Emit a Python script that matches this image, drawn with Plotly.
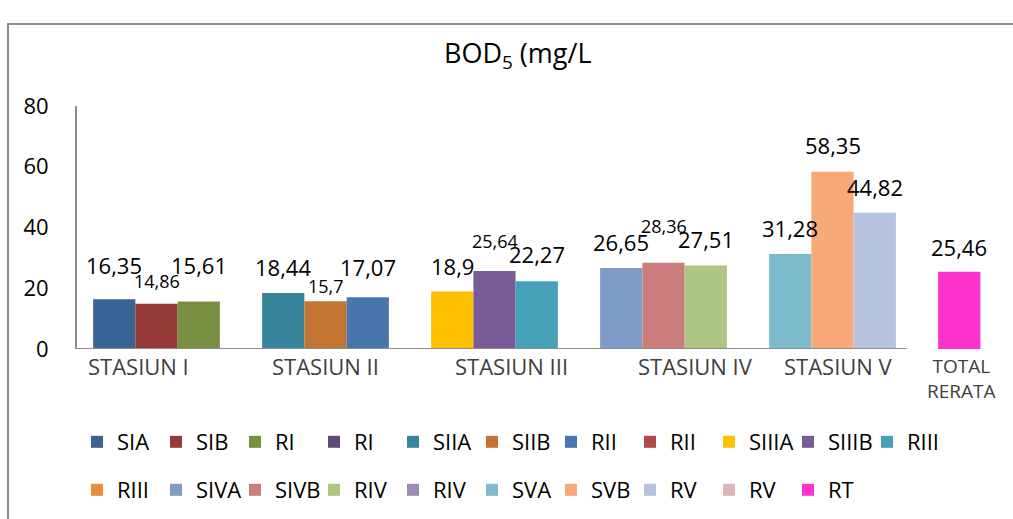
import plotly.graph_objects as go

# ---------------- data ----------------
categories = ["STASIUN I", "STASIUN II", "STASIUN III", "STASIUN IV", "STASIUN V", "TOTAL<br>RERATA"]
series_names = ["SIA", "SIB", "RI", "RI", "SIIA", "SIIB", "RII", "RII", "SIIIA", "SIIIB", "RIII",
                "RIII", "SIVA", "SIVB", "RIV", "RIV", "SVA", "SVB", "RV", "RV", "RT"]
series_values = [16.35, 14.86, 15.61, None, 18.44, 15.7, 17.07, None, 18.9, 25.64, 22.27,
                 None, 26.65, 28.36, 27.51, None, 31.28, 58.35, 44.82, None, 25.46]
series_category = [0, 0, 0, None, 1, 1, 1, None, 2, 2, 2,
                   None, 3, 3, 3, None, 4, 4, 4, None, 5]
y_ticks = [0, 20, 40, 60, 80]
title_text = "BOD<sub>5</sub> (mg/L"

# ---------------- style ----------------
colors = ["#3A6496", "#953A39", "#789040", "#604A7B", "#37869B", "#C27433", "#4A76AE", "#B04A48",
          "#FFC000", "#785C96", "#46A0B8", "#EB8C3C", "#7F9CC8", "#CB7C7B", "#AEC584", "#9E8BB8",
          "#7DBACE", "#F7A978", "#B5C3DF", "#DDB7B7", "#FF33CC"]
slot = [-1, 0, 1, None, -1, 0, 1, None, -1, 0, 1, None, -1, 0, 1, None, -1, 0, 1, None, -1]
small_label = {"SIB", "SIIB", "SIIIB", "SIVB"}
label_dy = [34, 23, 37, None, 26, 15, 30, None, 26, 30, 27, None, 26, 37, 26, None, 26, 27, 26, None, 25]
cat_label_dx = [-18, 0, 17, 32, 6, -40]
BW = 0.25  # bar width in category units
FONT = "Open Sans"
GRAY = "#8c8c8c"

W, H = 1013, 519
PL, PR, PT, PB = 77, 1013, 106, 349   # plot area in pixels
PW, PH = PR - PL, PB - PT


def px_x(px):
    return (px - PL) / PW


def px_y(py):
    return (PB - py) / PH


fig = go.Figure()
annotations = []
for i, name in enumerate(series_names):
    v = series_values[i]
    c = series_category[i]
    leg = "legend" if i < 11 else "legend2"
    if v is None:
        # series present only in the legend (no value)
        fig.add_trace(go.Bar(x=[categories[0]], y=[None], name=name, marker_color=colors[i],
                             marker_line_width=0, legend=leg, hoverinfo="skip"))
        continue
    fig.add_trace(go.Bar(
        x=[categories[c]], y=[v], name=name, marker_color=colors[i], marker_line_width=0,
        width=BW, offset=(slot[i] - 0.5) * BW, legend=leg,
    ))
    annotations.append(dict(
        x=c + slot[i] * BW, y=v, xref="x", yref="y", showarrow=False,
        text=str(v).replace(".", ","), yshift=label_dy[i], yanchor="middle",
        font=dict(family=FONT, size=18 if name in small_label else 22, color="black"),
    ))

for k, cat in enumerate(categories):
    is_total = k == len(categories) - 1
    annotations.append(dict(
        x=k, y=0, xref="x", yref="y", showarrow=False, text=cat,
        xshift=cat_label_dx[k], yshift=-29 if is_total else -17, yanchor="middle",
        font=dict(family=FONT, size=19 if is_total else 22, color="#404040"),
    ))

annotations.append(dict(
    x=px_x(518), y=px_y(55), xref="paper", yref="paper", showarrow=False,
    text=title_text, yanchor="middle", xanchor="center",
    font=dict(family=FONT, size=27, color="black"),
))

# outer chart frame: only its top and left edges are in the picture (drawn as filled strips)
shapes = [
    dict(type="line", xref="x", yref="y", x0=-0.4704, x1=4 + 1.5 * BW + 0.065, y0=0, y1=0,
         line=dict(color=GRAY, width=2)),
    dict(type="rect", xref="paper", yref="paper", x0=px_x(7), x1=px_x(1013),
         y0=px_y(25), y1=px_y(23), fillcolor=GRAY, line=dict(width=0)),
    dict(type="rect", xref="paper", yref="paper", x0=px_x(7), x1=px_x(9),
         y0=px_y(519), y1=px_y(23), fillcolor=GRAY, line=dict(width=0)),
]

legend_common = dict(orientation="h", xanchor="left", yanchor="middle",
                     font=dict(family=FONT, size=22, color="black"),
                     entrywidth=34, entrywidthmode="pixels", bgcolor="rgba(0,0,0,0)")

fig.update_layout(
    width=W, height=H,
    margin=dict(l=PL, r=W - PR, t=PT, b=H - PB),
    paper_bgcolor="white", plot_bgcolor="white",
    barmode="overlay",
    showlegend=True,
    legend=dict(x=0, y=px_y(442), **legend_common),
    legend2=dict(x=0, y=px_y(490), **legend_common),
    xaxis=dict(type="category", categoryorder="array", categoryarray=categories,
               range=[-0.4704, 5.068], showticklabels=False, showline=False,
               showgrid=False, zeroline=False, ticks=""),
    yaxis=dict(range=[0, 80], tickvals=y_ticks, showline=True, linecolor=GRAY, linewidth=2,
               showgrid=False, zeroline=False, ticks="", ticklabelstandoff=22,
               tickfont=dict(family=FONT, size=22, color="black")),
    annotations=annotations,
    shapes=shapes,
    font=dict(family=FONT),
)

fig.write_html(
    "out.html", config={"displayModeBar": False},
    post_script="document.body.style.margin='0';",
)
